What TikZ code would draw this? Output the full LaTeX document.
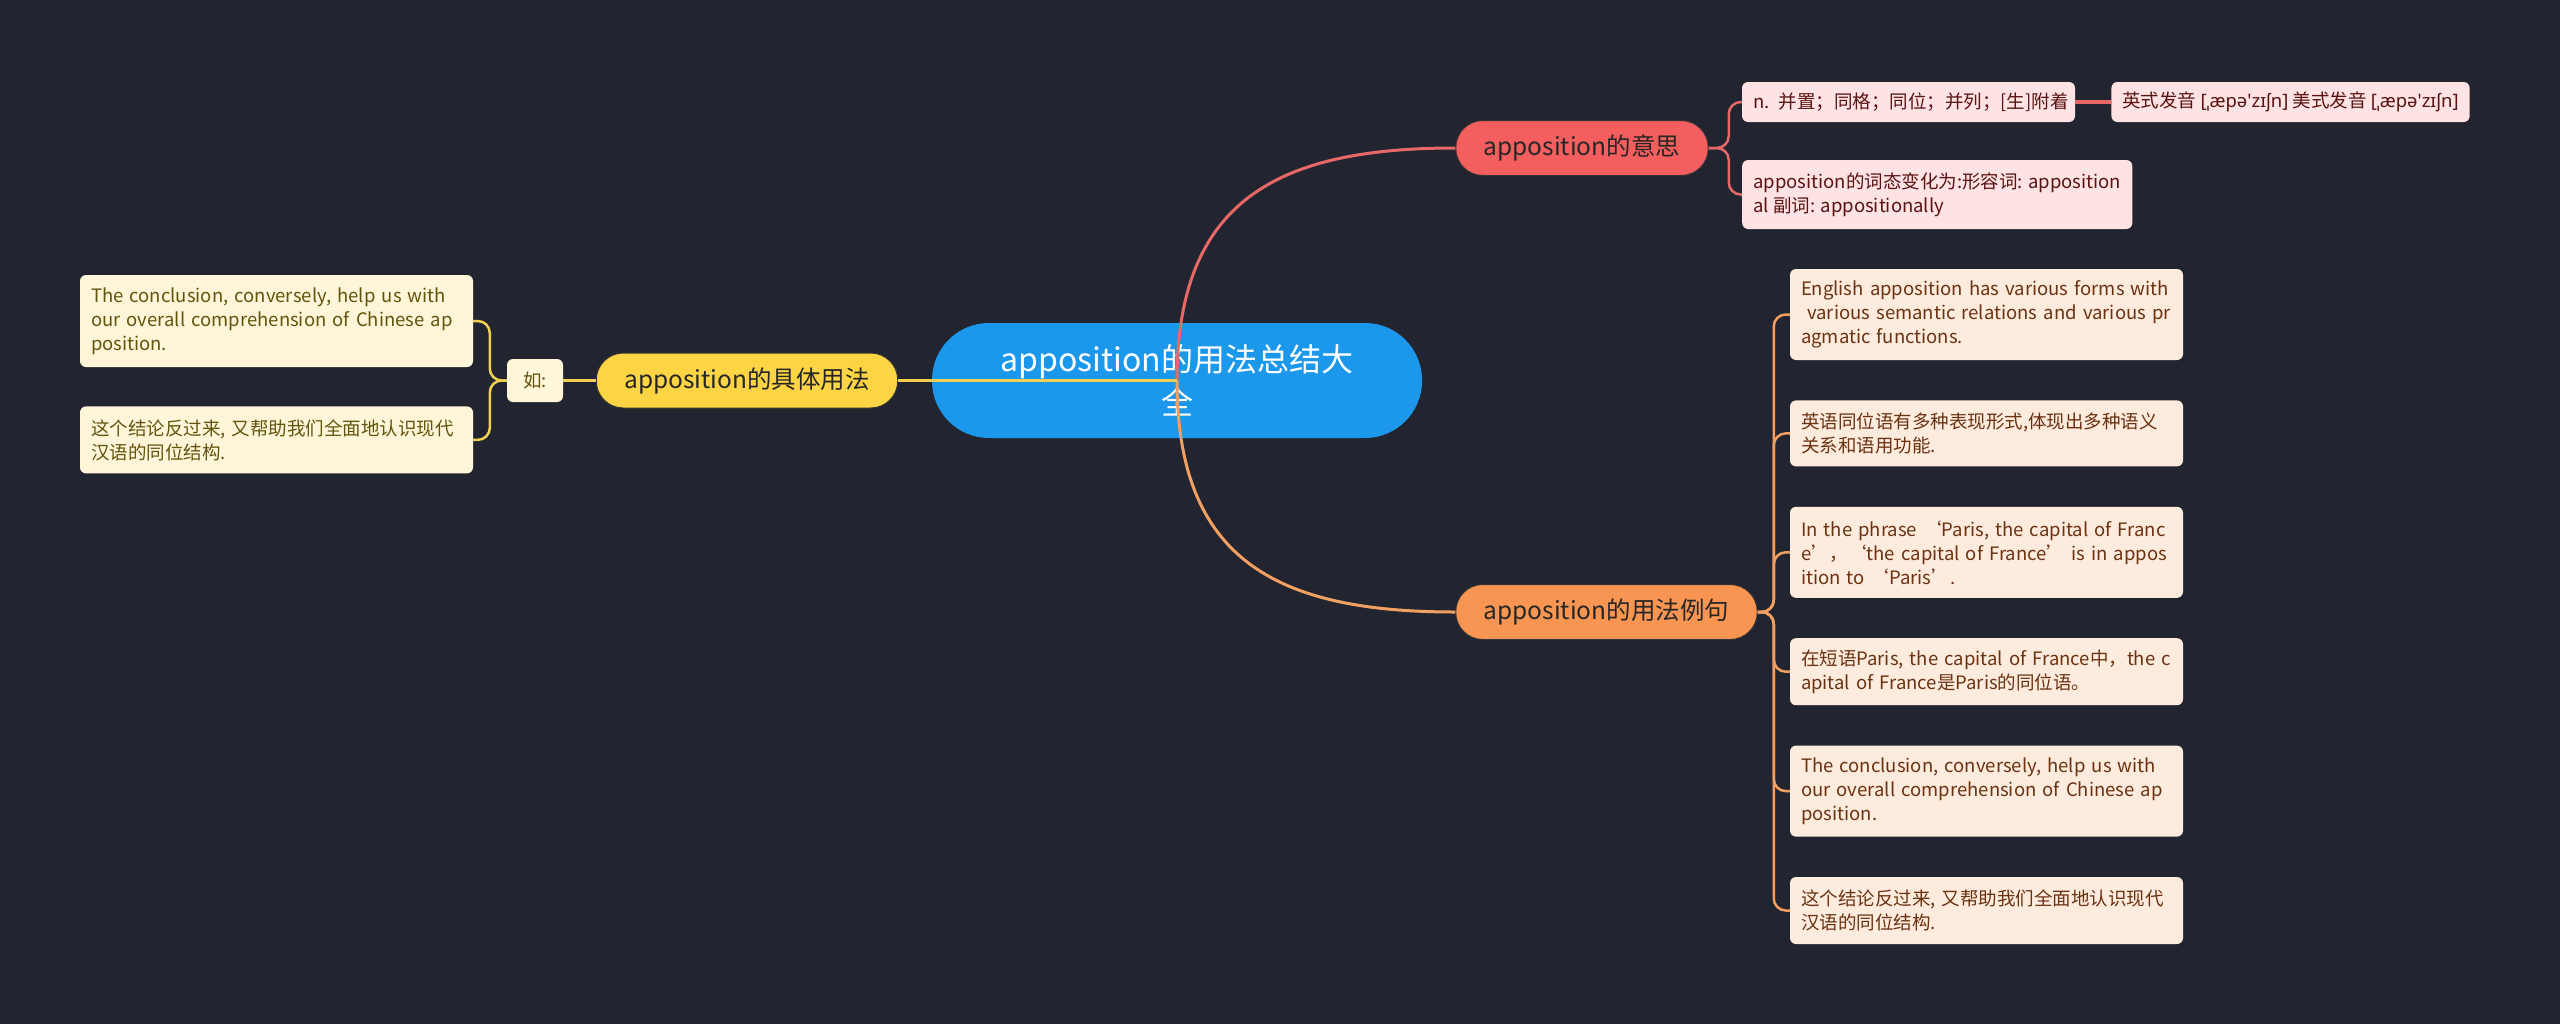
\documentclass[tikz,border=0pt]{standalone}
\usepackage{fontspec}
\setmainfont{Noto Sans CJK SC}
\newfontfamily\ipafont{Noto Sans}
\usepackage{xcolor}
\usetikzlibrary{positioning}

\definecolor{bgdark}{HTML}{22252F}
\definecolor{rootblue}{HTML}{1B98EC}
\definecolor{meanred}{HTML}{F45E5E}
\definecolor{meanline}{HTML}{E86868}
\definecolor{meanfill}{HTML}{FDE3E3}
\definecolor{meantext}{HTML}{5A1212}
\definecolor{exorange}{HTML}{F99552}
\definecolor{exline}{HTML}{F2A062}
\definecolor{exfill}{HTML}{FDEBDD}
\definecolor{extext}{HTML}{6B3212}
\definecolor{useyellow}{HTML}{FCD444}
\definecolor{useline}{HTML}{F0CF52}
\definecolor{usefill}{HTML}{FFF6DA}
\definecolor{usetext}{HTML}{62540C}

\begin{document}
\begin{tikzpicture}[
    x=1pt, y=-1pt,
    root/.style={rectangle, fill=rootblue, text=white, rounded corners=57pt, minimum width=490pt, minimum height=115pt, align=center, font=\fontsize{32}{43}\selectfont},
    branch/.style={rectangle, draw=black!80, line width=1pt, rounded corners=27pt, inner xsep=28pt, minimum height=55pt, text=black!85, font=\fontsize{24.5}{30}\selectfont},
    leaf/.style={rectangle, rounded corners=6pt, inner xsep=11pt, inner ysep=3pt, align=left, font=\fontsize{18.5}{24}\selectfont},
    meanleaf/.style={leaf, fill=meanfill, text=meantext},
    exleaf/.style={leaf, fill=exfill, text=extext, text width=371pt},
    useleaf/.style={leaf, fill=usefill, text=usetext, text width=371pt},
    link/.style={line width=2.5pt, rounded corners=12pt}
]

% Background
\useasboundingbox (0,0) rectangle (2560,1023);
\fill[bgdark] (-5,-5) rectangle (2565,1028);

% Root and main branches
\node[root] (root) at (1177,380.5) {apposition的用法总结大\\全};
\node[branch, fill=meanred] (mean) at (1582,148) {apposition的意思};
\node[branch, fill=exorange] (ex) at (1606.5,612) {apposition的用法例句};
\node[branch, fill=useyellow] (use) at (747,380.5) {apposition的具体用法};

% Meaning
\node[meanleaf, minimum height=40pt, text width=311pt] (def) at (1908.5,102) {n. 并置；同格；同位；并列；[生]附着};
\node[meanleaf, minimum height=40pt, right=36pt of def] (pron) {英式发音 {\ipafont [ˌæpə'zɪʃn]} 美式发音 {\ipafont [ˌæpə'zɪʃn]}};
\node[meanleaf, minimum height=69pt, anchor=west] (forms) at (1742,194.5) {apposition的词态变化为:形容词: apposition\\al 副词: appositionally};

% Examples
\node[exleaf, minimum height=91pt] (ex1) at (1986.5,314.5) {English apposition has various forms with\\\ various semantic relations and various pr\\agmatic functions.};
\node[exleaf, minimum height=66pt, below=40pt of ex1] (ex2) {英语同位语有多种表现形式,体现出多种语义\\关系和语用功能.};
\node[exleaf, minimum height=91pt, below=40pt of ex2] (ex3) {In the phrase ‘Paris, the capital of Franc\\e’，‘the capital of France’ is in appos\\ition to ‘Paris’.};
\node[exleaf, minimum height=67pt, below=40pt of ex3] (ex4) {在短语Paris, the capital of France中，the c\\apital of France是Paris的同位语。};
\node[exleaf, minimum height=91pt, below=40pt of ex4] (ex5) {The conclusion, conversely, help us with\\our overall comprehension of Chinese ap\\position.};
\node[exleaf, minimum height=67pt, below=40pt of ex5] (ex6) {这个结论反过来, 又帮助我们全面地认识现代\\汉语的同位结构.};

% Usage
\node[useleaf, minimum width=56pt, minimum height=43pt, text width=, inner xsep=8pt, align=center] (ru) at (535,380.5) {如:};
\node[useleaf, minimum height=92pt] (use1) at (276.5,321) {The conclusion, conversely, help us with\\our overall comprehension of Chinese ap\\position.};
\node[useleaf, minimum height=67pt, below=39pt of use1] (use2) {这个结论反过来, 又帮助我们全面地认识现代\\汉语的同位结构.};

% Connections
\draw[line width=3pt, meanline] (root.center) .. controls +(0,-180) and +(-178,0) .. (mean.west);
\draw[line width=3pt, exline] (root.center) .. controls +(0,180) and +(-178,0) .. (ex.west);
\draw[line width=3pt, useline] (root.center) -- (use.east);

\draw[link, meanline] (mean.east) -- ++(20,0) |- (def.west);
\draw[link, meanline] (mean.east) -- ++(20,0) |- (forms.west);
\draw[link, meanline, line width=4pt] (def.east) -- (pron.west);

\draw[link, exline] (ex.east) -- ++(16,0) |- (ex1.west);
\draw[link, exline] (ex.east) -- ++(16,0) |- (ex2.west);
\draw[link, exline] (ex.east) -- ++(16,0) |- (ex3.west);
\draw[link, exline] (ex.east) -- ++(16,0) |- (ex4.west);
\draw[link, exline] (ex.east) -- ++(16,0) |- (ex5.west);
\draw[link, exline] (ex.east) -- ++(16,0) |- (ex6.west);

\draw[link, useline] (use.west) -- (ru.east);
\draw[link, useline] (ru.west) -- ++(-17,0) |- (use1.east);
\draw[link, useline] (ru.west) -- ++(-17,0) |- (use2.east);

\end{tikzpicture}
\end{document}
